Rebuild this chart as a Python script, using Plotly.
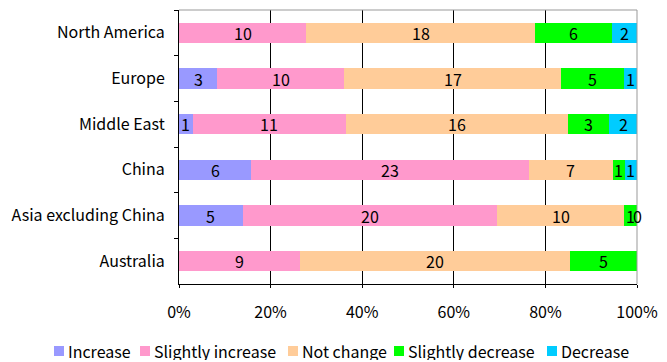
import plotly.graph_objects as go

# Survey responses by region (counts of respondents)
regions = ["North America", "Europe", "Middle East", "China",
           "Asia excluding China", "Australia"]
series_names = ["Increase", "Slightly increase", "Not change",
                "Slightly decrease", "Decrease"]
increase = [None, 3, 1, 6, 5, None]
slightly_increase = [10, 10, 11, 23, 20, 9]
not_change = [18, 17, 16, 7, 10, 20]
slightly_decrease = [6, 5, 3, 1, 1, 5]
decrease = [2, 1, 2, 1, 0, None]
tick_values = [0, 20, 40, 60, 80, 100]
tick_labels = ["0%", "20%", "40%", "60%", "80%", "100%"]

colors = ["#9999FF", "#FF99CC", "#FFCC99", "#00FF00", "#00CCFF"]
all_series = [increase, slightly_increase, not_change, slightly_decrease, decrease]

FONT = "Noto Sans CJK JP"
FS = 16
W, H = 667, 362

totals = [sum(s[i] or 0 for s in all_series) for i in range(len(regions))]
shares = [[(v or 0) / totals[i] * 100 for i, v in enumerate(s)] for s in all_series]

fig = go.Figure()
for name, color, pct in zip(series_names, colors, shares):
    fig.add_trace(go.Bar(
        y=regions, x=pct, name=name, orientation="h",
        marker=dict(color=color, line=dict(width=0)),
        hoverinfo="skip", showlegend=False,
    ))

# Count labels centred on each segment
annotations = []
for i, region in enumerate(regions):
    left = 0.0
    for s, pct in zip(all_series, shares):
        v = s[i]
        if v is not None:
            annotations.append(dict(
                x=left + pct[i] / 2, y=region, xref="x", yref="y",
                text=str(v), showarrow=False,
                font=dict(family=FONT, size=FS, color="black"),
            ))
        left += pct[i]

# Compact legend row along the bottom: colour key + series name
shapes = [
    dict(type="line", xref="x domain", yref="y domain", x0=0, x1=1, y0=1, y1=1,
         line=dict(color="#999999", width=1)),
    dict(type="line", xref="x domain", yref="y domain", x0=1, x1=1, y0=0, y1=1,
         line=dict(color="#999999", width=1)),
]
legend_x = [54, 140, 288, 394, 547]   # left edge of each key square, px
key = 10
legend_cy = 351
for name, color, lx in zip(series_names, colors, legend_x):
    shapes.append(dict(
        type="rect", xref="paper", yref="paper",
        x0=lx / W, x1=(lx + key) / W,
        y0=(H - legend_cy - key / 2) / H, y1=(H - legend_cy + key / 2) / H,
        fillcolor=color, line=dict(width=0),
    ))
    annotations.append(dict(
        x=(lx + key + 3) / W, y=(H - legend_cy) / H, xref="paper", yref="paper",
        xanchor="left", yanchor="middle", text=name, showarrow=False,
        font=dict(family=FONT, size=FS, color="black"),
        borderpad=0, height=18, valign="middle",
    ))

# Plot area in pixels: x 179..637, y 10..284
fig.update_layout(
    barmode="stack",
    bargap=0.56,
    width=W, height=H,
    margin=dict(l=0, r=0, t=0, b=0, autoexpand=False),
    paper_bgcolor="white", plot_bgcolor="white",
    font=dict(family=FONT, size=FS, color="black"),
    annotations=annotations,
    shapes=shapes,
    showlegend=False,
)
fig.update_xaxes(
    domain=[179 / W, 637 / W], automargin=False,
    range=[0, 100], tickvals=tick_values, ticktext=tick_labels,
    showgrid=True, gridcolor="black", gridwidth=1,
    showline=True, linecolor="black", linewidth=1,
    ticks="outside", ticklen=3, tickcolor="black",
    ticklabelstandoff=11, zeroline=False,
    tickfont=dict(family=FONT, size=FS, color="black"),
)
fig.update_yaxes(
    domain=[(H - 284) / H, (H - 10) / H], automargin=False,
    autorange="reversed", categoryorder="array", categoryarray=regions,
    showline=True, linecolor="black", linewidth=1,
    ticks="outside", ticklen=4, tickcolor="black", tickson="boundaries",
    ticklabelstandoff=10, showgrid=False,
    tickfont=dict(family=FONT, size=FS, color="black"),
)

fig.write_html("out.html")
